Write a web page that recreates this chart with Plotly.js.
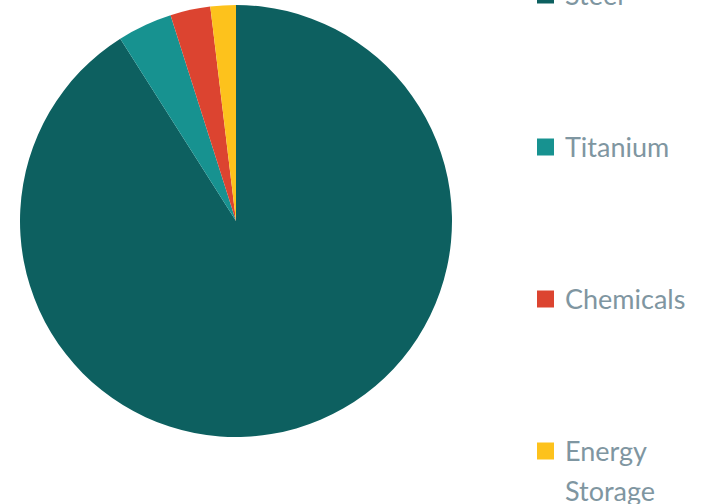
<!DOCTYPE html>
<html><head><meta charset="utf-8">
<script src="https://cdn.plot.ly/plotly-3.0.1.min.js"></script>
<style>html,body{margin:0;padding:0;background:#fff}#chart{width:706px;height:504px}</style>
</head><body><div id="chart"></div>
<script>
const categories = ["Steel", "Titanium", "Chemicals", "Energy Storage"];
const legendLines = [["Steel"], ["Titanium"], ["Chemicals"], ["Energy", "Storage"]];
const values = [91, 4.1, 3.0, 1.9];
const colors = ["#0d6060", "#179290", "#dc4430", "#fdc21c"];

const W = 706, H = 504;
const legendX = 537, textX = 563, firstY = -6, gapY = 152, lineGap = 40, sq = 17;

const shapes = [], annotations = [];
categories.forEach((c, i) => {
  const cy = firstY + i * gapY;
  shapes.push({type: "rect", xref: "paper", yref: "paper",
    x0: legendX / W, x1: (legendX + sq) / W,
    y0: 1 - (cy + sq / 2 + 1) / H, y1: 1 - (cy - sq / 2 + 1) / H,
    fillcolor: colors[i], line: {width: 0}});
  legendLines[i].forEach((line, k) => {
    annotations.push({xref: "paper", yref: "paper", x: textX / W,
      y: 1 - (cy + k * lineGap) / H,
      xanchor: "left", yanchor: "middle", align: "left", showarrow: false,
      text: line, font: {family: "Lato, 'Open Sans', sans-serif", size: 27, color: "#7f96a1"}});
  });
});

const data = [{
  type: "pie", labels: categories, values: values, sort: false,
  direction: "clockwise", rotation: 0, textinfo: "none", hoverinfo: "label+percent",
  marker: {colors: colors, line: {width: 0}},
  domain: {x: [20 / W, 452 / W], y: [1 - 437 / H, 1 - 5 / H]},
  showlegend: false
}];
const layout = {width: W, height: H, margin: {l: 0, r: 0, t: 0, b: 0},
  paper_bgcolor: "#fff", plot_bgcolor: "#fff", showlegend: false,
  shapes: shapes, annotations: annotations};
Plotly.newPlot("chart", data, layout, {displayModeBar: false, staticPlot: true});
</script></body></html>
